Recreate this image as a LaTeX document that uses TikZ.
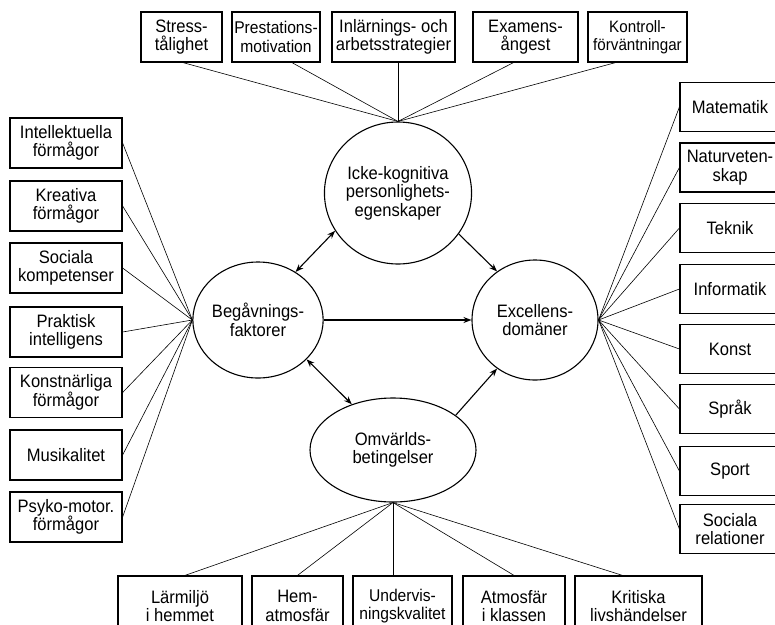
\documentclass[tikz,border=0pt]{standalone}
\usepackage{fontspec}
\setmainfont{Liberation Sans}[FakeStretch=0.92]
\usetikzlibrary{arrows.meta,calc,shapes.geometric}
\begin{document}
\begin{tikzpicture}[x=1pt,y=-1pt,
  every node/.style={font=\fontsize{18}{18.5}\selectfont, align=center, inner sep=0pt},
  factor/.style={draw, line width=1.2pt, minimum height=50pt},
  hub/.style={draw, ellipse, line width=1.1pt},
  spoke/.style={line width=0.6pt},
  link/.style={line width=1.1pt, -{Stealth[length=8pt,width=6pt]}},
  twoway/.style={line width=1.1pt, {Stealth[length=8pt,width=6pt]}-{Stealth[length=8pt,width=6pt]}}]
\useasboundingbox (0,0) rectangle (775,624);
\clip (0,0) rectangle (775,624);

% the four hubs
\node[hub, minimum width=142pt, minimum height=142pt] (ick) at (398,193) {Icke-kognitiva\\personlighets-\\egenskaper};
\node[hub, minimum width=128pt, minimum height=116pt] (beg) at (258,320) {Begåvnings-\\faktorer};
\node[hub, minimum width=126pt, minimum height=120pt] (exc) at (535,320) {Excellens-\\domäner};
\node[hub, minimum width=166pt, minimum height=104pt] (omv) at (393,450) {Omvärlds-\\betingelser};

% personality factors (top row)
\node[factor, minimum width=81pt]  (stress) at (181.5,37) {Stress-\\tålighet};
\node[factor, minimum width=88pt, font=\fontsize{17}{18.5}\selectfont] (prest) at (276,37) {Prestations-\\motivation};
\node[factor, minimum width=123pt] (inl)    at (393.5,37) {Inlärnings- och\\arbetsstrategier};
\node[factor, minimum width=105pt] (exam)   at (525.5,37) {Examens-\\ångest};
\node[factor, minimum width=99pt, font=\fontsize{16.5}{18.5}\selectfont] (kontr) at (637.5,37) {Kontroll-\\förväntningar};

% talent factors (left column)
\node[factor, minimum width=112pt] (intel) at (66,143) {Intellektuella\\förmågor};
\node[factor, minimum width=112pt] (krea)  at (66,206) {Kreativa\\förmågor};
\node[factor, minimum width=112pt] (soc)   at (66,268) {Sociala\\kompetenser};
\node[factor, minimum width=112pt] (prak)  at (66,332) {Praktisk\\intelligens};
\node[factor, minimum width=112pt] (konstn) at (66,392.5) {Konstnärliga\\förmågor};
\node[factor, minimum width=112pt] (musik) at (66,455) {Musikalitet};
\node[factor, minimum width=112pt] (psyko) at (66,517) {Psyko-motor.\\förmågor};

% domains of excellence (right column)
\node[factor, minimum width=100pt, minimum height=49pt] (mat)  at (730,107)   {Matematik};
\node[factor, minimum width=100pt, minimum height=49pt] (nat)  at (730,167.5) {Naturveten-\\skap};
\node[factor, minimum width=100pt, minimum height=49pt] (tek)  at (730,228)   {Teknik};
\node[factor, minimum width=100pt, minimum height=49pt] (inf)  at (730,289)   {Informatik};
\node[factor, minimum width=100pt, minimum height=49pt] (kon)  at (730,349)   {Konst};
\node[factor, minimum width=100pt, minimum height=49pt] (spr)  at (730,409)   {Språk};
\node[factor, minimum width=100pt, minimum height=49pt] (spo)  at (730,471)   {Sport};
\node[factor, minimum width=100pt, minimum height=49pt] (rel)  at (730,529)   {Sociala\\relationer};

% environmental conditions (bottom row)
\node[factor, minimum width=124pt, minimum height=60pt] (lar) at (180,606)   {Lärmiljö\\i hemmet};
\node[factor, minimum width=91pt,  minimum height=60pt] (hem) at (297.5,606) {Hem-\\atmosfär};
\node[factor, minimum width=99pt,  minimum height=60pt, font=\fontsize{17}{18.5}\selectfont] (und) at (402.5,606) {Undervis-\\ningskvalitet};
\node[factor, minimum width=102pt, minimum height=60pt] (atm) at (514,606)   {Atmosfär\\i klassen};
\node[factor, minimum width=127pt, minimum height=60pt] (kri) at (638.5,606) {Kritiska\\livshändelser};

% spokes to the personality hub
\draw[spoke] ($(stress.south)+(1.5,0)$) -- (ick.north);
\draw[spoke] ($(prest.south)+(16,0)$) -- (ick.north);
\draw[spoke, line width=1pt] (ick.north) -- (ick.north |- inl.south);
\draw[spoke] ($(exam.south)+(-12,0)$) -- (ick.north);
\draw[spoke] ($(kontr.south)+(-22,0)$) -- (ick.north);

% spokes to the talent hub
\foreach \b in {intel,krea,soc,prak,konstn,musik,psyko}
  \draw[spoke] (\b.east) -- (beg.west);

% spokes to the excellence hub
\foreach \b in {mat,nat,tek,inf,kon,spr,spo,rel}
  \draw[spoke] (exc.east) -- (\b.west);

% spokes to the environment hub
\draw[spoke] ($(lar.north)+(5,0)$) -- (omv.south);
\draw[spoke] (hem.north) -- (omv.south);
\draw[spoke, line width=1pt] (omv.south) -- (omv.south |- und.north);
\draw[spoke] (atm.north) -- (omv.south);
\draw[spoke] ($(kri.north)+(-16,0)$) -- (omv.south);

% relations between the hubs
\draw[twoway] (ick.211) -- (beg.52);
\draw[link] (ick.326) -- (exc.128);
\draw[link] (beg.east) -- (exc.west);
\draw[twoway] (beg.321) -- (omv.132);
\draw[link] (omv.29) -- (exc.232);
\end{tikzpicture}
\end{document}
